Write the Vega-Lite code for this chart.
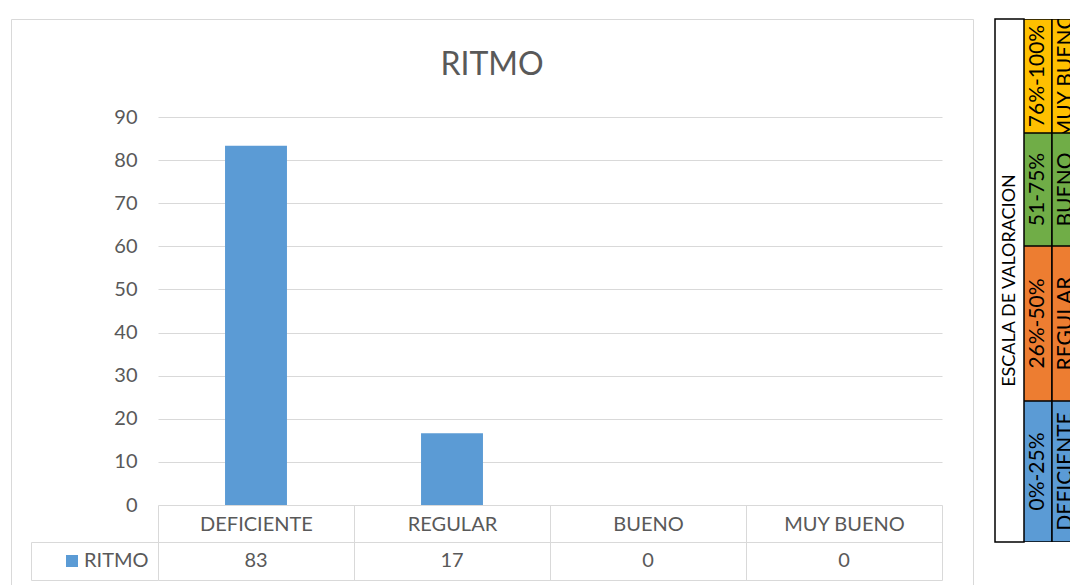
{
  "$schema": "https://vega.github.io/schema/vega-lite/v6.json",
  "padding": {"left": 10, "top": 18, "right": 0, "bottom": 0},
  "background": "white",
  "config": {"view": {"stroke": "#d9d9d9", "strokeWidth": 1}, "font": "Lato"},
  "datasets": {
    "ritmo": [
      {"categoria": "DEFICIENTE", "valor": 83.33, "serie": "RITMO"},
      {"categoria": "REGULAR", "valor": 16.67, "serie": "RITMO"},
      {"categoria": "BUENO", "valor": 0, "serie": "RITMO"},
      {"categoria": "MUY BUENO", "valor": 0, "serie": "RITMO"}
    ],
    "escala": [
      {"nivel": "MUY BUENO", "columna": "rango", "texto": "76%-100%"},
      {"nivel": "MUY BUENO", "columna": "nivel", "texto": "MUY BUENO"},
      {"nivel": "BUENO", "columna": "rango", "texto": "51-75%"},
      {"nivel": "BUENO", "columna": "nivel", "texto": "BUENO"},
      {"nivel": "REGULAR", "columna": "rango", "texto": "26%-50%"},
      {"nivel": "REGULAR", "columna": "nivel", "texto": "REGULAR"},
      {"nivel": "DEFICIENTE", "columna": "rango", "texto": "0%-25%"},
      {"nivel": "DEFICIENTE", "columna": "nivel", "texto": "DEFICIENTE"}
    ],
    "titulo": [{"texto": "ESCALA DE VALORACION"}]
  },
  "spacing": 22,
  "bounds": "flush",
  "resolve": {"scale": {"x": "independent", "y": "independent", "color": "independent"}},
  "hconcat": [
    {
      "width": 962,
      "height": 566,
      "data": {"name": "ritmo"},
      "title": {"text": "RITMO", "fontSize": 32, "font": "Lato", "fontWeight": "normal", "color": "#595959", "anchor": "middle", "baseline": "middle", "offset": -78},
      "resolve": {"scale": {"y": "independent"}, "axis": {"y": "independent"}},
      "layer": [
        {
          "mark": {"type": "bar", "width": {"band": 0.316}},
          "encoding": {
            "x": {
              "field": "categoria", "type": "nominal", "sort": null,
              "scale": {"domain": ["DEFICIENTE", "REGULAR", "BUENO", "MUY BUENO"], "range": [147, 931], "paddingInner": 0, "paddingOuter": 0},
              "axis": {"orient": "bottom", "offset": -80, "title": null, "domain": false, "ticks": true, "tickBand": "extent", "tickSize": 75, "tickColor": "#d9d9d9", "labelAngle": 0, "labelFont": "Lato", "labelFontSize": 20, "labelColor": "#595959", "labelBaseline": "middle", "labelPadding": -56, "grid": false}
            },
            "y": {
              "field": "valor", "type": "quantitative",
              "scale": {"domain": [0, 90], "range": [486, 98], "nice": false},
              "axis": {"orient": "left", "title": null, "values": [0, 10, 20, 30, 40, 50, 60, 70, 80, 90], "domain": false, "ticks": false, "grid": true, "gridColor": "#d9d9d9", "labelFont": "Lato", "labelFontSize": 20, "labelColor": "#595959", "labelAlign": "right", "labelBaseline": "middle", "labelPadding": -126}
            },
            "color": {
              "field": "serie", "type": "nominal",
              "scale": {"domain": ["RITMO"], "range": ["#5b9bd5"]},
              "legend": {"orient": "none", "legendX": 51, "legendY": 532, "title": null, "symbolType": "square", "symbolSize": 144, "symbolStrokeWidth": 0, "labelFont": "Lato", "labelFontSize": 20, "labelColor": "#595959", "labelOffset": 2, "padding": 0}
            }
          }
        },
        {
          "mark": {"type": "text", "font": "Lato", "fontSize": 20, "color": "#595959"},
          "encoding": {
            "x": {"field": "categoria", "type": "nominal", "sort": null},
            "y": {
              "field": "serie", "type": "nominal",
              "scale": {"domain": ["RITMO"], "range": [523, 561], "paddingInner": 0, "paddingOuter": 0},
              "axis": {"orient": "left", "title": null, "offset": -20, "labels": false, "domain": true, "domainColor": "#d9d9d9", "ticks": true, "tickBand": "extent", "tickSize": -127, "tickColor": "#d9d9d9", "grid": true, "gridColor": "#d9d9d9"}
            },
            "text": {"field": "valor", "type": "quantitative", "format": ".0f"}
          }
        }
      ]
    },
    {
      "spacing": 0,
      "bounds": "flush",
      "hconcat": [
        {
          "width": 29,
          "height": 523,
          "data": {"name": "titulo"},
          "view": {"stroke": "black", "strokeWidth": 1.5},
          "mark": {"type": "text", "angle": 270, "font": "Lato", "fontSize": 18, "color": "black"},
          "encoding": {"text": {"field": "texto", "type": "nominal"}}
        },
        {
          "spacing": 0,
          "bounds": "flush",
          "vconcat": [
            {
              "width": 47, "height": 114,
              "data": {"name": "escala"},
              "transform": [{"filter": "datum.nivel === 'MUY BUENO'"}],
              "view": {"stroke": null},
              "layer": [
                {"mark": {"type": "rect", "stroke": "black", "strokeWidth": 1.5, "clip": true},
                 "encoding": {
                   "x": {"field": "columna", "type": "nominal", "scale": {"domain": ["rango", "nivel"], "range": [0, 56], "paddingInner": 0, "paddingOuter": 0}, "axis": null},
                   "color": {"field": "nivel", "type": "nominal", "scale": {"domain": ["DEFICIENTE", "REGULAR", "BUENO", "MUY BUENO"], "range": ["#5b9bd5", "#ed7d31", "#70ad47", "#ffc000"]}, "legend": null}}},
                {"mark": {"type": "text", "angle": 270, "font": "Lato", "fontSize": 21, "color": "black", "clip": true},
                 "encoding": {"x": {"field": "columna", "type": "nominal", "axis": null}, "text": {"field": "texto", "type": "nominal"}}}
              ]
            },
            {
              "width": 47, "height": 113,
              "data": {"name": "escala"},
              "transform": [{"filter": "datum.nivel === 'BUENO'"}],
              "view": {"stroke": null},
              "layer": [
                {"mark": {"type": "rect", "stroke": "black", "strokeWidth": 1.5, "clip": true},
                 "encoding": {
                   "x": {"field": "columna", "type": "nominal", "scale": {"domain": ["rango", "nivel"], "range": [0, 56], "paddingInner": 0, "paddingOuter": 0}, "axis": null},
                   "color": {"field": "nivel", "type": "nominal", "scale": {"domain": ["DEFICIENTE", "REGULAR", "BUENO", "MUY BUENO"], "range": ["#5b9bd5", "#ed7d31", "#70ad47", "#ffc000"]}, "legend": null}}},
                {"mark": {"type": "text", "angle": 270, "font": "Lato", "fontSize": 21, "color": "black", "clip": true},
                 "encoding": {"x": {"field": "columna", "type": "nominal", "axis": null}, "text": {"field": "texto", "type": "nominal"}}}
              ]
            },
            {
              "width": 47, "height": 155,
              "data": {"name": "escala"},
              "transform": [{"filter": "datum.nivel === 'REGULAR'"}],
              "view": {"stroke": null},
              "layer": [
                {"mark": {"type": "rect", "stroke": "black", "strokeWidth": 1.5, "clip": true},
                 "encoding": {
                   "x": {"field": "columna", "type": "nominal", "scale": {"domain": ["rango", "nivel"], "range": [0, 56], "paddingInner": 0, "paddingOuter": 0}, "axis": null},
                   "color": {"field": "nivel", "type": "nominal", "scale": {"domain": ["DEFICIENTE", "REGULAR", "BUENO", "MUY BUENO"], "range": ["#5b9bd5", "#ed7d31", "#70ad47", "#ffc000"]}, "legend": null}}},
                {"mark": {"type": "text", "angle": 270, "font": "Lato", "fontSize": 21, "color": "black", "clip": true},
                 "encoding": {"x": {"field": "columna", "type": "nominal", "axis": null}, "text": {"field": "texto", "type": "nominal"}}}
              ]
            },
            {
              "width": 47, "height": 141,
              "data": {"name": "escala"},
              "transform": [{"filter": "datum.nivel === 'DEFICIENTE'"}],
              "view": {"stroke": null},
              "layer": [
                {"mark": {"type": "rect", "stroke": "black", "strokeWidth": 1.5, "clip": true},
                 "encoding": {
                   "x": {"field": "columna", "type": "nominal", "scale": {"domain": ["rango", "nivel"], "range": [0, 56], "paddingInner": 0, "paddingOuter": 0}, "axis": null},
                   "color": {"field": "nivel", "type": "nominal", "scale": {"domain": ["DEFICIENTE", "REGULAR", "BUENO", "MUY BUENO"], "range": ["#5b9bd5", "#ed7d31", "#70ad47", "#ffc000"]}, "legend": null}}},
                {"mark": {"type": "text", "angle": 270, "font": "Lato", "fontSize": 21, "color": "black", "clip": true},
                 "encoding": {"x": {"field": "columna", "type": "nominal", "axis": null}, "text": {"field": "texto", "type": "nominal"}}}
              ]
            }
          ]
        }
      ]
    }
  ]
}
